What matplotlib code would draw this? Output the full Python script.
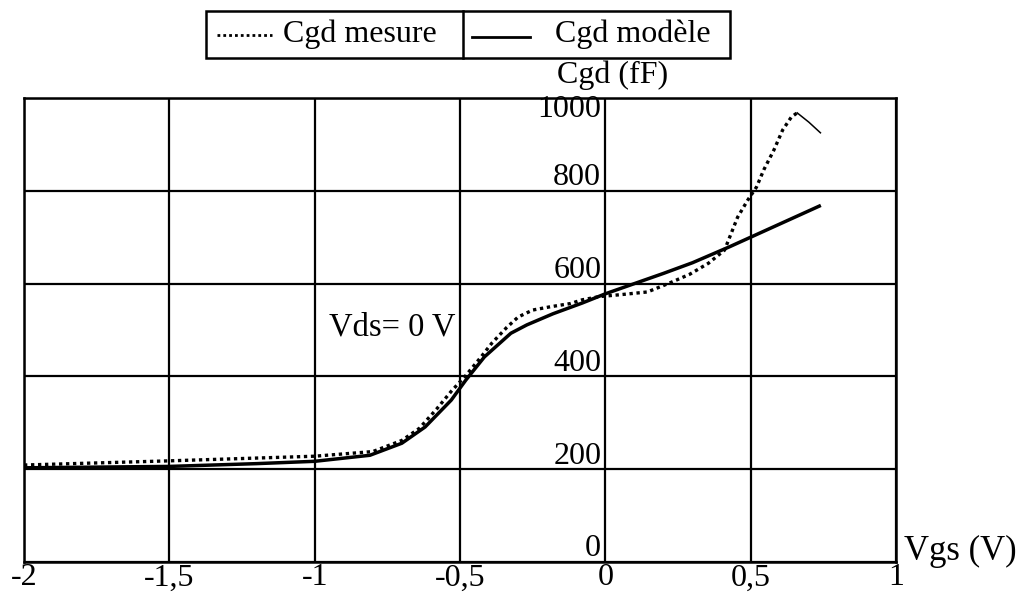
import matplotlib
matplotlib.use("Agg")
import matplotlib.pyplot as plt
from matplotlib.lines import Line2D
from matplotlib.patches import Rectangle

plt.rcParams["font.family"] = ["Liberation Serif", "DejaVu Serif"]

# Cgd(Vgs) at Vds = 0 V, measured vs model
vgs_mes = [-2.0, -1.5, -1.2, -1.0, -0.8, -0.7, -0.64, -0.58, -0.53, -0.48,
           -0.43, -0.39, -0.34, -0.30, -0.25, -0.19, -0.12, -0.08, -0.02,
           0.05, 0.145, 0.22, 0.29, 0.355, 0.41, 0.455, 0.49, 0.52, 0.545,
           0.58, 0.61, 0.64, 0.66]
cgd_mes = [209, 218, 224, 228, 238, 262, 288, 330, 368, 402,
           440, 472, 505, 528, 543, 550, 557, 565, 572,
           576, 582, 601, 620, 644, 672, 743, 780, 808, 845,
           888, 931, 959, 968]
# last stretch of the measurement is plotted as a thin solid trace
vgs_mes_tail = [0.66, 0.70, 0.74]
cgd_mes_tail = [968, 948, 925]

vgs_mod = [-2.0, -1.5, -1.2, -1.0, -0.81, -0.70, -0.62, -0.53, -0.48, -0.416,
           -0.325, -0.27, -0.18, -0.08, 0.0, 0.1, 0.2, 0.3, 0.426, 0.5, 0.736]
cgd_mod = [203, 206, 212, 217, 230, 256, 291, 349, 392, 442,
           493, 511, 535, 558, 578, 600, 622, 645, 679, 700, 767]

x_ticks = [-2, -1.5, -1, -0.5, 0, 0.5, 1]
x_labels = ["-2", "-1,5", "-1", "-0,5", "0", "0,5", "1"]
y_ticks = [0, 200, 400, 600, 800, 1000]

W, H = 1025, 592
DOTS = (0, (1.0, 1.1))


def px(x, y):
    return x / W, 1 - y / H


fig = plt.figure(figsize=(W / 100, H / 100), dpi=100)
l, b = px(24, 562)
r, t = px(896, 98)
ax = fig.add_axes([l, b, r - l, t - b])

ax.set_xlim(-2, 1)
ax.set_ylim(0, 1000)
ax.set_xticks(x_ticks)
ax.set_yticks(y_ticks)
ax.tick_params(length=0, labelbottom=False, labelleft=False)
ax.grid(True, color="black", linewidth=1.6)
for s in ax.spines.values():
    s.set_linewidth(1.8)

ax.plot(vgs_mod, cgd_mod, color="black", linewidth=2.5, zorder=3)
ax.plot(vgs_mes, cgd_mes, color="black", linewidth=2.4, linestyle=DOTS,
        zorder=4)
ax.plot(vgs_mes_tail, cgd_mes_tail, color="black", linewidth=1.1, zorder=4)

fs = 23
for v, lab in zip(x_ticks, x_labels):
    ax.annotate(lab, (v, 0), xytext=(0, -1), textcoords="offset points",
                ha="center", va="top", fontsize=fs)
for v in y_ticks[:-1]:
    ax.annotate(str(v), (0, v), xytext=(-3, -1), textcoords="offset points",
                ha="right", va="bottom", fontsize=fs)
ax.annotate("1000", (0, 1000), xytext=(-3, 2), textcoords="offset points",
            ha="right", va="top", fontsize=fs)

ax.text(-0.515, 506, "Vds= 0 V", ha="right", va="center", fontsize=fs + 0.5)
fig.text(*px(613, 75), "Cgd (fF)", ha="center", va="center", fontsize=fs)
fig.text(*px(904, 551), "Vgs (V)", ha="left", va="center", fontsize=25)

# legend box drawn by hand: two cells side by side
x0, y0 = px(206, 58)
x1, y1 = px(730, 11)
fig.add_artist(Rectangle((x0, y0), x1 - x0, y1 - y0, transform=fig.transFigure,
                         fill=False, edgecolor="black", linewidth=1.8))
xd, _ = px(463, 0)
fig.add_artist(Line2D([xd, xd], [y0, y1], transform=fig.transFigure,
                      color="black", linewidth=1.8))
a, ly = px(217, 35)
c, _ = px(272, 35)
fig.add_artist(Line2D([a, c], [ly, ly], transform=fig.transFigure,
                      color="black", linewidth=2.0, linestyle=DOTS))
fig.text(*px(283, 34), "Cgd mesure", ha="left", va="center", fontsize=fs)
a, ly = px(472, 37)
c, _ = px(530, 37)
fig.add_artist(Line2D([a, c], [ly, ly], transform=fig.transFigure,
                      color="black", linewidth=2.0))
fig.text(*px(555, 34), "Cgd modèle", ha="left", va="center", fontsize=fs)

fig.savefig("out.png", dpi=100)
